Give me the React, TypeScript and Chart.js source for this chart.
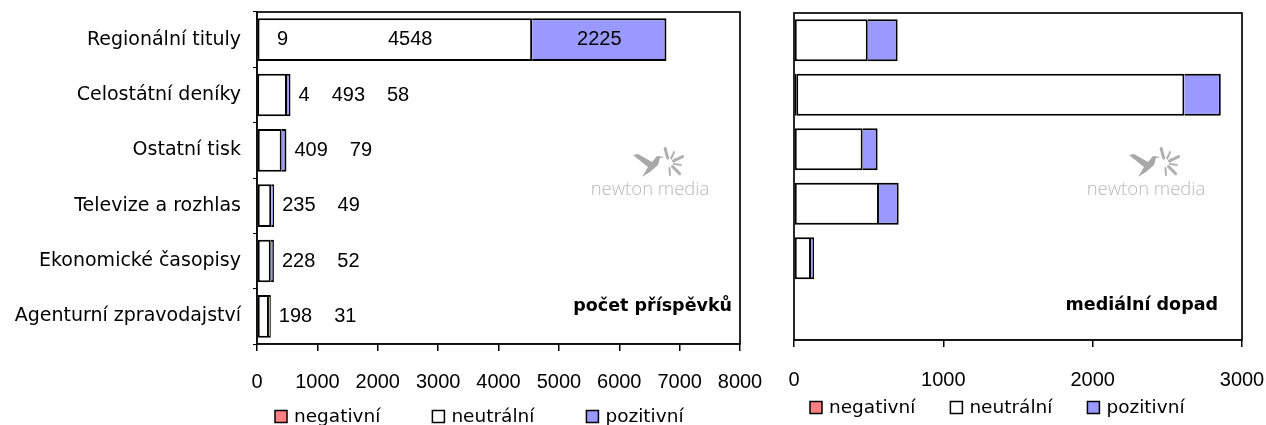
import React, { useEffect, useRef } from "react";
import { Chart, registerables } from "chart.js";

Chart.register(...registerables);

// ---------- data ----------
const categories = [
  "Regionální tituly",
  "Celostátní deníky",
  "Ostatní tisk",
  "Televize a rozhlas",
  "Ekonomické časopisy",
  "Agenturní zpravodajství",
];
const seriesNames = ["negativní", "neutrální", "pozitivní"];

const countNegative = [9, 4, 0, 0, 0, 0];
const countNeutral = [4548, 493, 409, 235, 228, 198];
const countPositive = [2225, 58, 79, 49, 52, 31];

const impactNegative = [0, 15, 0, 0, 0, 0];
const impactNeutral = [494, 2599, 460, 569, 114, 0];
const impactPositive = [200, 244, 100, 132, 20, 0];

const countAxisMax = 8000;
const impactAxisMax = 3000;
const axisStep = 1000;

const countTitle = "počet příspěvků";
const impactTitle = "mediální dopad";
const watermarkText = "newton media";

// ---------- styles ----------
const seriesColors = ["#FF8080", "#FFFFFF", "#9999FF"];
const FONT = '"DejaVu Sans", Verdana, sans-serif';
const NUMFONT = '"Liberation Sans", Arial, sans-serif';

// ---------- plugins ----------
const framePlugin = {
  id: "frame",
  afterDraw(chart: any) {
    const { ctx, chartArea: a } = chart;
    ctx.save();
    ctx.strokeStyle = "#111";
    ctx.lineWidth = 1.8;
    ctx.strokeRect(a.left, a.top, a.right - a.left, a.bottom - a.top);
    ctx.restore();
  },
};

const segLabelPlugin = {
  id: "segLabels",
  afterDatasetsDraw(chart: any, _args: any, opts: any) {
    if (!opts || !opts.enabled) return;
    const ctx = chart.ctx;
    const xScale = chart.scales.x;
    ctx.save();
    ctx.font = `20px ${NUMFONT}`;
    ctx.fillStyle = "#000";
    ctx.textBaseline = "middle";
    ctx.textAlign = "left";
    const n = chart.data.labels.length;
    const gap = 22;
    for (let i = 0; i < n; i++) {
      const items: any[] = [];
      let barEnd = xScale.getPixelForValue(0);
      let y = 0;
      chart.data.datasets.forEach((ds: any, di: number) => {
        const el = chart.getDatasetMeta(di).data[i] as any;
        const v = ds.data[i];
        const x0 = Math.min(el.base, el.x);
        const x1 = Math.max(el.base, el.x);
        y = el.y;
        barEnd = Math.max(barEnd, x1);
        if (v > 0) {
          const t = String(v);
          items.push({ t, w: ctx.measureText(t).width, x0, x1 });
        }
      });
      const fits = items.map((it) => it.x1 - it.x0 >= it.w + 8);
      const anyFit = fits.some(Boolean);
      let prevRight = anyFit ? xScale.left : barEnd;
      let cursor = anyFit ? xScale.left + 20 : barEnd + 8;
      items.forEach((it, k) => {
        let left: number;
        if (fits[k]) {
          const a = Math.max(it.x0, prevRight);
          left = (a + it.x1) / 2 - it.w / 2;
        } else {
          left = Math.max(cursor, (it.x0 + it.x1) / 2 - it.w / 2);
        }
        ctx.fillText(it.t, left, y);
        prevRight = left + it.w;
        cursor = prevRight + gap;
      });
    }
    ctx.restore();
  },
};

const cornerTitlePlugin = {
  id: "cornerTitle",
  afterDatasetsDraw(chart: any, _args: any, opts: any) {
    if (!opts || !opts.text) return;
    const { ctx, chartArea: a } = chart;
    ctx.save();
    ctx.font = `bold 17.5px ${FONT}`;
    ctx.fillStyle = "#000";
    ctx.textAlign = "right";
    ctx.textBaseline = "middle";
    ctx.fillText(opts.text, a.right - opts.inset, opts.y);
    ctx.restore();
  },
};

const legendPlugin = {
  id: "boxLegend",
  afterDraw(chart: any, _args: any, opts: any) {
    if (!opts || !opts.names) return;
    const ctx = chart.ctx;
    ctx.save();
    ctx.font = `18.5px ${FONT}`;
    ctx.textBaseline = "middle";
    ctx.textAlign = "left";
    let x = opts.startX;
    const box = 12;
    opts.names.forEach((name: string, i: number) => {
      ctx.fillStyle = opts.colors[i];
      ctx.fillRect(x, opts.y - box / 2, box, box);
      ctx.strokeStyle = "#000";
      ctx.lineWidth = 1.5;
      ctx.strokeRect(x, opts.y - box / 2, box, box);
      ctx.fillStyle = "#000";
      const tx = x + box + 7;
      ctx.fillText(name, tx, opts.y + 1);
      x = tx + ctx.measureText(name).width + opts.gap;
    });
    ctx.restore();
  },
};

const watermarkPlugin = {
  id: "watermark",
  beforeDatasetsDraw(chart: any, _args: any, opts: any) {
    if (!opts || !opts.text) return;
    const ctx = chart.ctx;
    const cx = opts.cx;
    const by = opts.baseY;
    ctx.save();
    ctx.fillStyle = "#b8b8b8";
    ctx.font = `300 18.5px "Open Sans", ${FONT}`;
    ctx.textAlign = "center";
    ctx.textBaseline = "alphabetic";
    ctx.fillText(opts.text, cx, by);
    // bird
    const p = (dx: number, dy: number) => [cx + dx, by + dy];
    const pts = [
      p(-17, -40), p(-2, -28), p(-8, -18), p(0, -23), p(8, -30),
      p(10, -37), p(15, -38), p(7, -39), p(2, -33), p(-12, -41),
    ];
    ctx.fillStyle = "#a8a8a8";
    ctx.beginPath();
    ctx.moveTo(pts[0][0], pts[0][1]);
    for (let k = 1; k < pts.length; k++) ctx.lineTo(pts[k][0], pts[k][1]);
    ctx.closePath();
    ctx.fill();
    // splash rays
    const rc = p(19, -32);
    ctx.lineCap = "round";
    ctx.strokeStyle = "#b0b0b0";
    const angles = [-105, -65, -25, 10, 45, 85];
    angles.forEach((deg, k) => {
      const r = (deg * Math.PI) / 180;
      const r0 = 5;
      const r1 = k % 2 === 0 ? 15 : 12;
      ctx.lineWidth = k % 2 === 0 ? 3 : 2;
      ctx.beginPath();
      ctx.moveTo(rc[0] + Math.cos(r) * r0, rc[1] + Math.sin(r) * r0);
      ctx.lineTo(rc[0] + Math.cos(r) * r1, rc[1] + Math.sin(r) * r1);
      ctx.stroke();
    });
    ctx.restore();
  },
};

function zeroPadding(s: any) {
  s.paddingLeft = 0;
  s.paddingRight = 0;
  s.paddingTop = 0;
  s.paddingBottom = 0;
}

// ---------- chart builder ----------
function buildConfig(opts: {
  neg: number[];
  neu: number[];
  pos: number[];
  max: number;
  showCategories: boolean;
  yWidth: number;
  padding: any;
  xHeight: number;
  tickPad: number;
  labels: boolean;
  title: string;
  titleInset: number;
  titleY: number;
  legendStartX: number;
  legendY: number;
  legendGap: number;
  wmCx: number;
  wmY: number;
}) {
  const values = [opts.neg, opts.neu, opts.pos];
  return {
    type: "bar" as const,
    data: {
      labels: categories,
      datasets: values.map((d, i) => ({
        label: seriesNames[i],
        data: d,
        backgroundColor: seriesColors[i],
        borderColor: "#000",
        borderWidth: 2,
        borderSkipped: i === 2 ? "start" : false,
        categoryPercentage: 1,
        barPercentage: 0.77,
      })),
    },
    options: {
      indexAxis: "y" as const,
      responsive: false,
      maintainAspectRatio: false,
      animation: false as const,
      layout: { padding: opts.padding },
      scales: {
        x: {
          stacked: true,
          min: 0,
          max: opts.max,
          afterFit: (s: any) => {
            s.height = opts.xHeight;
            zeroPadding(s);
          },
          ticks: {
            stepSize: axisStep,
            autoSkip: false,
            maxRotation: 0,
            color: "#000",
            padding: opts.tickPad,
            font: { family: NUMFONT, size: 20 },
            callback: (v: any) => String(v),
          },
          grid: {
            drawOnChartArea: false,
            drawTicks: true,
            tickLength: 7,
            color: "#000",
            lineWidth: 1.5,
          },
          border: { display: true, color: "#000", width: 1.5 },
        },
        y: {
          stacked: true,
          display: opts.showCategories,
          afterFit: (s: any) => {
            s.width = opts.yWidth;
            zeroPadding(s);
          },
          ticks: {
            color: "#000",
            padding: 12,
            font: { family: FONT, size: 19 },
          },
          grid: {
            offset: true,
            drawOnChartArea: false,
            drawTicks: true,
            tickLength: 4,
            color: "#000",
            lineWidth: 1,
          },
          border: { display: true, color: "#000", width: 1.5 },
        },
      },
      plugins: {
        legend: { display: false },
        tooltip: { enabled: false },
        segLabels: { enabled: opts.labels },
        cornerTitle: { text: opts.title, inset: opts.titleInset, y: opts.titleY },
        boxLegend: {
          names: seriesNames,
          colors: seriesColors,
          startX: opts.legendStartX,
          y: opts.legendY,
          gap: opts.legendGap,
        },
        watermark: { text: watermarkText, cx: opts.wmCx, baseY: opts.wmY },
      },
    },
    plugins: [framePlugin, segLabelPlugin, cornerTitlePlugin, legendPlugin, watermarkPlugin],
  };
}

function BarPanel(props: { width: number; height: number; config: any }) {
  const ref = useRef<HTMLCanvasElement | null>(null);
  useEffect(() => {
    if (!ref.current) return;
    const chart = new Chart(ref.current, props.config);
    return () => chart.destroy();
  }, []);
  return (
    <canvas
      ref={ref}
      width={props.width}
      height={props.height}
      style={{ width: props.width, height: props.height, display: "block" }}
    />
  );
}

export default function App() {
  const leftConfig = buildConfig({
    neg: countNegative,
    neu: countNeutral,
    pos: countPositive,
    max: countAxisMax,
    showCategories: true,
    yWidth: 257,
    padding: { top: 12, right: 40, left: 0, bottom: 0 },
    xHeight: 81,
    tickPad: 19,
    labels: true,
    title: countTitle,
    titleInset: 8,
    titleY: 306,
    legendStartX: 275,
    legendY: 416.5,
    legendGap: 52,
    wmCx: 650,
    wmY: 195,
  });
  const rightConfig = buildConfig({
    neg: impactNegative,
    neu: impactNeutral,
    pos: impactPositive,
    max: impactAxisMax,
    showCategories: false,
    yWidth: 0,
    padding: { top: 13, right: 24, left: 24, bottom: 0 },
    xHeight: 85,
    tickPad: 21,
    labels: false,
    title: impactTitle,
    titleInset: 24,
    titleY: 305,
    legendStartX: 40,
    legendY: 407.5,
    legendGap: 35,
    wmCx: 376,
    wmY: 195,
  });
  return (
    <div
      style={{
        position: "absolute",
        left: 0,
        top: 0,
        width: 1266,
        height: 425,
        background: "#fff",
        overflow: "hidden",
      }}
    >
      <div style={{ position: "absolute", left: 0, top: 0 }}>
        <BarPanel width={780} height={425} config={leftConfig} />
      </div>
      <div style={{ position: "absolute", left: 770, top: 0 }}>
        <BarPanel width={496} height={425} config={rightConfig} />
      </div>
    </div>
  );
}
